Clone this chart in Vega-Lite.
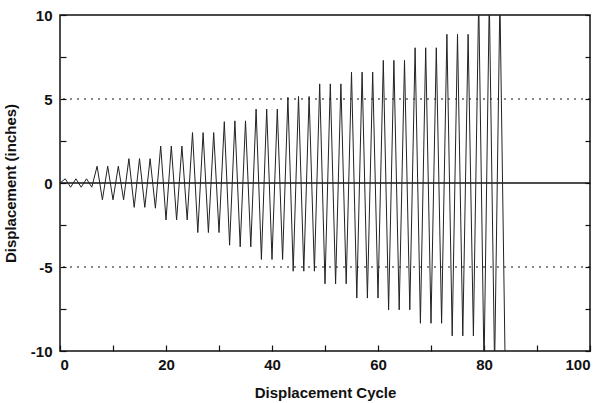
{
  "$schema": "https://vega.github.io/schema/vega-lite/v6.json",
  "autosize": "none",
  "width": 530,
  "height": 336,
  "padding": {"left": 60, "top": 15, "right": 14, "bottom": 52},
  "background": "white",
  "config": {
    "view": {"stroke": "#111", "strokeWidth": 1.5},
    "font": "Liberation Sans",
    "axis": {
      "domain": false,
      "grid": false,
      "tickColor": "#111",
      "tickWidth": 1.2,
      "labelColor": "#111",
      "titleColor": "#111",
      "labelFont": "Liberation Sans",
      "titleFont": "Liberation Sans",
      "labelFontWeight": "bold",
      "titleFontWeight": "bold",
      "labelFontSize": 15,
      "titleFontSize": 15
    }
  },
  "resolve": {"axis": {"y": "independent"}},
  "datasets": {
    "cycles": [
      {"cycle": 0, "disp": 0},
      {"cycle": 1, "disp": 0.25}, {"cycle": 2, "disp": -0.25}, {"cycle": 3, "disp": 0.25}, {"cycle": 4, "disp": -0.25}, {"cycle": 5, "disp": 0.25}, {"cycle": 6, "disp": -0.25},
      {"cycle": 7, "disp": 1.0}, {"cycle": 8, "disp": -1.0}, {"cycle": 9, "disp": 1.0}, {"cycle": 10, "disp": -1.0}, {"cycle": 11, "disp": 1.0}, {"cycle": 12, "disp": -1.0},
      {"cycle": 13, "disp": 1.45}, {"cycle": 14, "disp": -1.45}, {"cycle": 15, "disp": 1.45}, {"cycle": 16, "disp": -1.45}, {"cycle": 17, "disp": 1.45}, {"cycle": 18, "disp": -1.5},
      {"cycle": 19, "disp": 2.2}, {"cycle": 20, "disp": -2.2}, {"cycle": 21, "disp": 2.2}, {"cycle": 22, "disp": -2.2}, {"cycle": 23, "disp": 2.2}, {"cycle": 24, "disp": -2.2},
      {"cycle": 25, "disp": 3.0}, {"cycle": 26, "disp": -2.95}, {"cycle": 27, "disp": 3.0}, {"cycle": 28, "disp": -2.95}, {"cycle": 29, "disp": 3.0}, {"cycle": 30, "disp": -2.95},
      {"cycle": 31, "disp": 3.65}, {"cycle": 32, "disp": -3.7}, {"cycle": 33, "disp": 3.7}, {"cycle": 34, "disp": -3.8}, {"cycle": 35, "disp": 3.7}, {"cycle": 36, "disp": -3.8},
      {"cycle": 37, "disp": 4.4}, {"cycle": 38, "disp": -4.55}, {"cycle": 39, "disp": 4.4}, {"cycle": 40, "disp": -4.55}, {"cycle": 41, "disp": 4.4}, {"cycle": 42, "disp": -4.55},
      {"cycle": 43, "disp": 5.1}, {"cycle": 44, "disp": -5.25}, {"cycle": 45, "disp": 5.15}, {"cycle": 46, "disp": -5.25}, {"cycle": 47, "disp": 5.15}, {"cycle": 48, "disp": -5.25},
      {"cycle": 49, "disp": 5.9}, {"cycle": 50, "disp": -6.0}, {"cycle": 51, "disp": 5.9}, {"cycle": 52, "disp": -6.0}, {"cycle": 53, "disp": 5.9}, {"cycle": 54, "disp": -6.0},
      {"cycle": 55, "disp": 6.6}, {"cycle": 56, "disp": -6.85}, {"cycle": 57, "disp": 6.6}, {"cycle": 58, "disp": -6.85}, {"cycle": 59, "disp": 6.6}, {"cycle": 60, "disp": -6.85},
      {"cycle": 61, "disp": 7.3}, {"cycle": 62, "disp": -7.55}, {"cycle": 63, "disp": 7.3}, {"cycle": 64, "disp": -7.55}, {"cycle": 65, "disp": 7.3}, {"cycle": 66, "disp": -7.55},
      {"cycle": 67, "disp": 8.05}, {"cycle": 68, "disp": -8.35}, {"cycle": 69, "disp": 8.05}, {"cycle": 70, "disp": -8.35}, {"cycle": 71, "disp": 8.05}, {"cycle": 72, "disp": -8.35},
      {"cycle": 73, "disp": 8.85}, {"cycle": 74, "disp": -9.1}, {"cycle": 75, "disp": 8.85}, {"cycle": 76, "disp": -9.1}, {"cycle": 77, "disp": 8.85}, {"cycle": 78, "disp": -9.1},
      {"cycle": 79, "disp": 11}, {"cycle": 80, "disp": -11}, {"cycle": 81, "disp": 11}, {"cycle": 82, "disp": -11}, {"cycle": 83, "disp": 11}, {"cycle": 84, "disp": -11}
    ],
    "grid": [{"y": 5}, {"y": -5}],
    "zero": [{"y": 0}]
  },
  "layer": [
    {
      "data": {"name": "grid"},
      "mark": {"type": "rule", "color": "#111", "strokeWidth": 1.2, "strokeDash": [2, 5]},
      "encoding": {"y": {"field": "y", "type": "quantitative",
        "scale": {"domain": [-10, 10], "nice": false},
        "axis": {"orient": "right", "title": null, "labels": false,
          "values": [-10, -7.5, -5, -2.5, 0, 2.5, 5, 7.5, 10], "tickSize": -5}}}
    },
    {
      "data": {"name": "zero"},
      "mark": {"type": "rule", "color": "#111", "strokeWidth": 1.5},
      "encoding": {"y": {"field": "y", "type": "quantitative", "axis": null}}
    },
    {
      "data": {"name": "cycles"},
      "mark": {"type": "line", "color": "#222", "strokeWidth": 1, "clip": true},
      "encoding": {
        "x": {
          "field": "cycle", "type": "quantitative",
          "scale": {"domain": [0, 100], "nice": false, "zero": false},
          "axis": {
            "title": "Displacement Cycle",
            "values": [0, 10, 20, 30, 40, 50, 60, 70, 80, 90, 100],
            "labelExpr": "datum.value % 20 == 0 ? '' + datum.value : ''",
            "tickSize": -6,
            "labelPadding": 12,
            "titlePadding": 13
          }
        },
        "y": {
          "field": "disp", "type": "quantitative",
          "scale": {"domain": [-10, 10], "nice": false},
          "axis": {
            "orient": "left",
            "title": "Displacement (inches)",
            "values": [-10, -7.5, -5, -2.5, 0, 2.5, 5, 7.5, 10],
            "labelExpr": "datum.value % 5 == 0 ? '' + datum.value : ''",
            "tickSize": -6,
            "labelPadding": 14,
            "titlePadding": 12
          }
        }
      }
    }
  ]
}
